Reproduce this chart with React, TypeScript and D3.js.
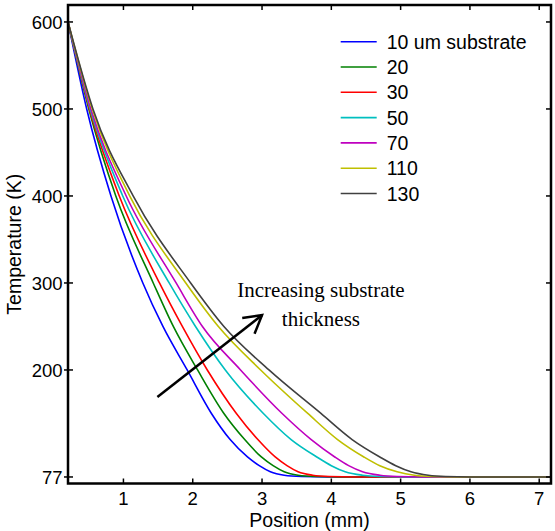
import React from "react";
import * as d3 from "d3";

const seriesNames = ["10 um substrate", "20", "30", "50", "70", "110", "130"];
const seriesColors = ["#0000ff", "#008000", "#ff0000", "#00bfbf", "#bf00bf", "#bfbf00", "#404040"];

// Temperature levels (K) at which each curve's position (mm) was read
const tempLevels = [600, 500, 400, 300, 250, 200, 150, 120, 100, 90, 83, 79, 77.5, 77, 77];

const blueX = [0.2, 0.47, 0.82, 1.28, 1.57, 1.92, 2.27, 2.54, 2.79, 2.96, 3.12, 3.32, 3.57, 3.95, 7.17];
const greenX = [0.2, 0.5, 0.89, 1.43, 1.72, 2.07, 2.45, 2.75, 2.99, 3.16, 3.32, 3.52, 3.77, 4.15, 7.17];
const redX = [0.2, 0.51, 0.94, 1.52, 1.85, 2.21, 2.63, 2.94, 3.19, 3.36, 3.52, 3.73, 3.97, 4.35, 7.17];
const cyanX = [0.2, 0.52, 0.99, 1.66, 2.04, 2.47, 3.02, 3.42, 3.79, 4.0, 4.2, 4.45, 4.7, 5.1, 7.17];
const magentaX = [0.2, 0.53, 1.04, 1.76, 2.14, 2.69, 3.29, 3.71, 4.05, 4.25, 4.45, 4.7, 4.95, 5.3, 7.17];
const yellowX = [0.2, 0.55, 1.09, 1.9, 2.37, 2.98, 3.66, 4.09, 4.47, 4.7, 4.95, 5.2, 5.45, 5.8, 7.17];
const grayX = [0.2, 0.56, 1.14, 1.97, 2.45, 3.1, 3.85, 4.3, 4.7, 4.93, 5.15, 5.4, 5.65, 6.0, 7.17];

const allX = [blueX, greenX, redX, cyanX, magentaX, yellowX, grayX];

const xTicks = [1, 2, 3, 4, 5, 6, 7];
const yTicks = [77, 200, 300, 400, 500, 600];

const arrowFrom = [1.49, 169];
const arrowTo = [3.0, 263];
const annotationLines = ["Increasing substrate", "thickness"];
const annotationPos = [3.85, 284];

export default function App() {
  const W = 555, H = 531;
  const left = 68, right = 551, top = 5, bottom = 483.5;
  const x = d3.scaleLinear().domain([0.2, 7.17]).range([left, right]);
  const y = d3.scaleLinear().domain([69.5, 619.5]).range([bottom, top]);
  const line = d3
    .line<[number, number]>()
    .x((d) => x(d[0]))
    .y((d) => y(d[1]))
    .curve(d3.curveMonotoneX);

  const ax0 = x(arrowFrom[0]), ay0 = y(arrowFrom[1]);
  const ax1 = x(arrowTo[0]), ay1 = y(arrowTo[1]);
  const ang = Math.atan2(ay0 - ay1, ax0 - ax1);
  const hl = 20, ha = (30 * Math.PI) / 180;
  const h1 = [ax1 + hl * Math.cos(ang + ha), ay1 + hl * Math.sin(ang + ha)];
  const h2 = [ax1 + hl * Math.cos(ang - ha), ay1 + hl * Math.sin(ang - ha)];

  const sans = "Arial, 'Liberation Sans', Helvetica, sans-serif";
  const serif = "'Times New Roman', 'Liberation Serif', serif";

  return (
    <svg
      width={W}
      height={H}
      style={{ position: "absolute", left: 0, top: 0, background: "#fff" }}
    >
      <rect x={0} y={0} width={W} height={H} fill="#fff" />
      <defs>
        <clipPath id="plot">
          <rect x={left} y={top} width={right - left} height={bottom - top} />
        </clipPath>
      </defs>
      <g clipPath="url(#plot)">
        {allX.map((xs, i) => (
          <path
            key={i}
            d={line(xs.map((v, j) => [v, tempLevels[j]]) as [number, number][]) || ""}
            fill="none"
            stroke={seriesColors[i]}
            strokeWidth={1.6}
          />
        ))}
      </g>
      <rect x={left} y={top} width={right - left} height={bottom - top} fill="none" stroke="#000" strokeWidth={2.5} />
      {xTicks.map((t) => (
        <g key={"x" + t}>
          <line x1={x(t)} x2={x(t)} y1={bottom} y2={bottom - 5} stroke="#000" strokeWidth={1.5} />
          <line x1={x(t)} x2={x(t)} y1={top} y2={top + 5} stroke="#000" strokeWidth={1.5} />
          <text x={x(t)} y={505} textAnchor="middle" fontFamily={sans} fontSize={18.5} fill="#000">
            {t}
          </text>
        </g>
      ))}
      {yTicks.map((t) => (
        <g key={"y" + t}>
          <line x1={left - 4} x2={left + 5} y1={y(t)} y2={y(t)} stroke="#000" strokeWidth={1.5} />
          <line x1={right} x2={right - 5} y1={y(t)} y2={y(t)} stroke="#000" strokeWidth={1.5} />
          <text x={62.5} y={y(t) + 7} textAnchor="end" fontFamily={sans} fontSize={18.5} fill="#000">
            {t}
          </text>
        </g>
      ))}
      <text x={(left + right) / 2} y={527} textAnchor="middle" fontFamily={sans} fontSize={19.5} fill="#000">
        Position (mm)
      </text>
      <text
        transform={`translate(20.5, ${(top + bottom) / 2}) rotate(-90)`}
        textAnchor="middle"
        fontFamily={sans}
        fontSize={19.5}
        fill="#000"
      >
        Temperature (K)
      </text>
      {seriesNames.map((n, i) => (
        <g key={"l" + i}>
          <line x1={340.7} x2={376.7} y1={41.7 + i * 25.3} y2={41.7 + i * 25.3} stroke={seriesColors[i]} strokeWidth={1.6} />
          <text x={386.7} y={48.7 + i * 25.3} fontFamily={sans} fontSize={19.5} fill="#000">
            {n}
          </text>
        </g>
      ))}
      {annotationLines.map((s, i) => (
        <text
          key={"a" + i}
          x={x(annotationPos[0])}
          y={y(annotationPos[1]) + i * 29.5}
          textAnchor="middle"
          fontFamily={serif}
          fontSize={21}
          fill="#000"
        >
          {s}
        </text>
      ))}
      <line x1={ax0} y1={ay0} x2={ax1} y2={ay1} stroke="#000" strokeWidth={2.5} />
      <polyline
        points={`${h1[0]},${h1[1]} ${ax1},${ay1} ${h2[0]},${h2[1]}`}
        fill="none"
        stroke="#000"
        strokeWidth={2.5}
      />
    </svg>
  );
}
